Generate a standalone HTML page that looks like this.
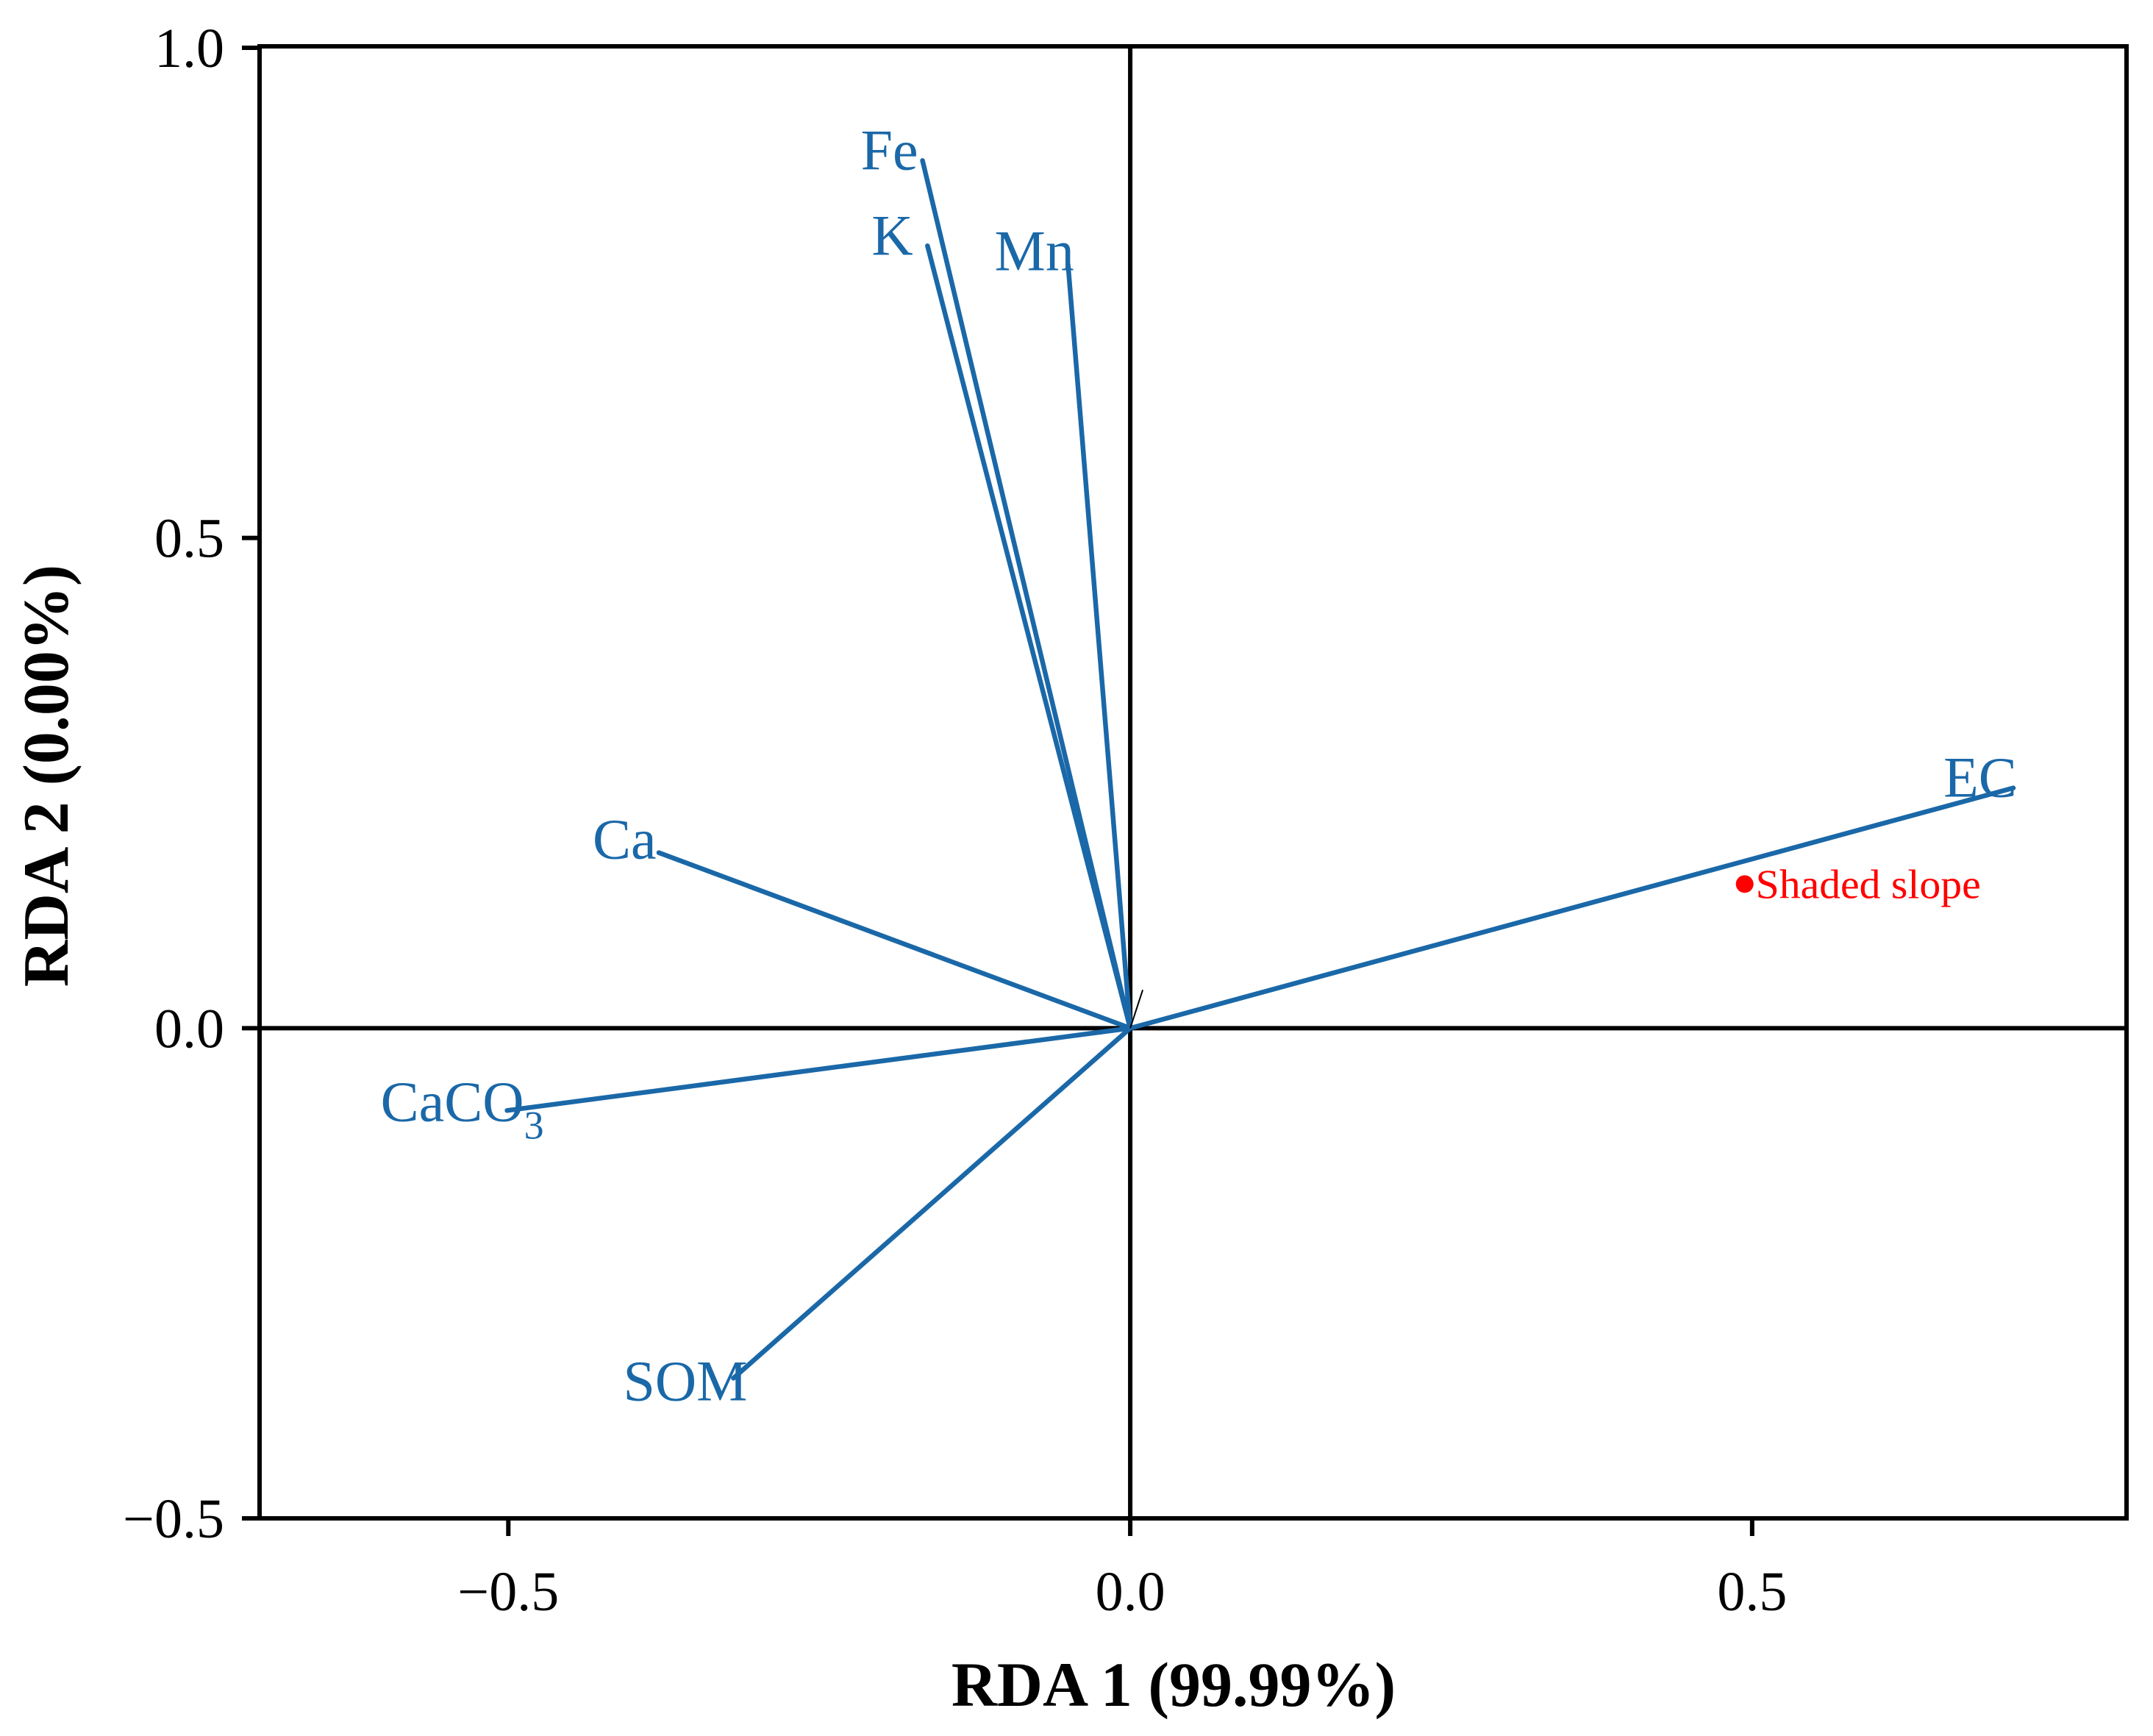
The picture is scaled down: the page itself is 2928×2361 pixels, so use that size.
<!DOCTYPE html>
<html><head><meta charset="utf-8"><style>html,body{margin:0;padding:0;background:#fff}svg{display:block}</style></head>
<body>
<svg id="chart" width="2928" height="2361" viewBox="0 0 2928 2361" xmlns="http://www.w3.org/2000/svg" font-family="'Liberation Serif', serif">
<g id="g"></g>
</svg>
<script>
const varNames = ["Fe","K","Mn","EC","Ca","CaCO3","SOM"];
const varX = [-0.167,-0.163,-0.050,0.710,-0.379,-0.501,-0.319];
const varY = [0.885,0.798,0.779,0.245,0.179,-0.084,-0.357];
const siteNames = ["Shaded slope"];
const siteX = [0.494];
const siteY = [0.147];
const xTicks = [-0.5,0,0.5];
const xTickLabels = ["\u22120.5","0.0","0.5"];
const yTicks = [1.0,0.5,0,-0.5];
const yTickLabels = ["1.0","0.5","0.0","\u22120.5"];

const L=353,R=2892,T=65,B=2065,xmin=-0.7,xmax=0.801,ymin=-0.5,ymax=1.0;
const sx=v=>L+(v-xmin)/(xmax-xmin)*(R-L);
const sy=v=>B-(v-ymin)/(ymax-ymin)*(B-T);
const NS="http://www.w3.org/2000/svg";
const g=document.getElementById('g');
function mk(tag,attrs,parent){const e=document.createElementNS(NS,tag);for(const k in attrs)e.setAttribute(k,attrs[k]);(parent||g).appendChild(e);return e;}
let e=mk('line',{x1:L,x2:R,y1:sy(0),y2:sy(0),stroke:'#000','stroke-width':6});


e=mk('line',{x1:sx(0),x2:sx(0),y1:T-2,y2:B,stroke:'#000','stroke-width':6});


const lblOff={Fe:[-84,12],K:[-76,12],Mn:[-100,8],EC:[-95,12],Ca:[-90,8],CaCO3:[-172,14],SOM:[-150,30]};
varNames.forEach((n,i)=>{
  const x=sx(varX[i]),y=sy(varY[i]);
  let l=mk('line',{x1:sx(0),y1:sy(0),x2:x,y2:y,stroke:'#1a68a8','stroke-width':6.5,'stroke-linecap':'round'});
  
  
  const o=lblOff[n];
  let t=mk('text',{x:x+o[0],y:y+o[1],fill:'#1a68a8','font-size':78});
  
  
  if(n==="CaCO3"){t.textContent="CaCO";const s=mk('tspan',{'font-size':54,dy:24},t);s.textContent="3";}
  else t.textContent=n;
});
e=mk('line',{x1:sx(0),y1:sy(0),x2:sx(0)+17,y2:sy(0)-52,stroke:'#000','stroke-width':2});


siteNames.forEach((n,i)=>{
  const x=sx(siteX[i]),y=sy(siteY[i]);
  let c=mk('circle',{cx:x,cy:y,r:12,fill:'#ff0000'});
  
  
  let t=mk('text',{x:x+15,y:y+19,fill:'#ff0000','font-size':56,textLength:306,lengthAdjust:'spacingAndGlyphs'});
  
  
  t.textContent=n;
});
e=mk('rect',{x:L,y:T-2,width:R-L,height:B-T+2,fill:'none',stroke:'#000','stroke-width':6});


xTicks.forEach((v,i)=>{
  let t=mk('line',{x1:sx(v),x2:sx(v),y1:B,y2:B+24,stroke:'#000','stroke-width':6});
  
  
  let tx=mk('text',{x:sx(v),y:2190,'text-anchor':'middle','font-size':76});
  
  
  tx.textContent=xTickLabels[i];
});
yTicks.forEach((v,i)=>{
  let t=mk('line',{x1:L-24,x2:L,y1:sy(v),y2:sy(v),stroke:'#000','stroke-width':6});
  
  
  let tx=mk('text',{x:L-48,y:sy(v)+26,'text-anchor':'end','font-size':76});
  
  
  tx.textContent=yTickLabels[i];
});
e=mk('text',{x:1596,y:2320,'text-anchor':'middle','font-size':86,'font-weight':'bold'});


e.textContent="RDA 1 (99.99%)";
e=mk('text',{x:0,y:0,'text-anchor':'middle','font-size':88,'font-weight':'bold',transform:'translate(92,1055) rotate(-90)'});


e.textContent="RDA 2 (0.00%)";
</script>
</body></html>
